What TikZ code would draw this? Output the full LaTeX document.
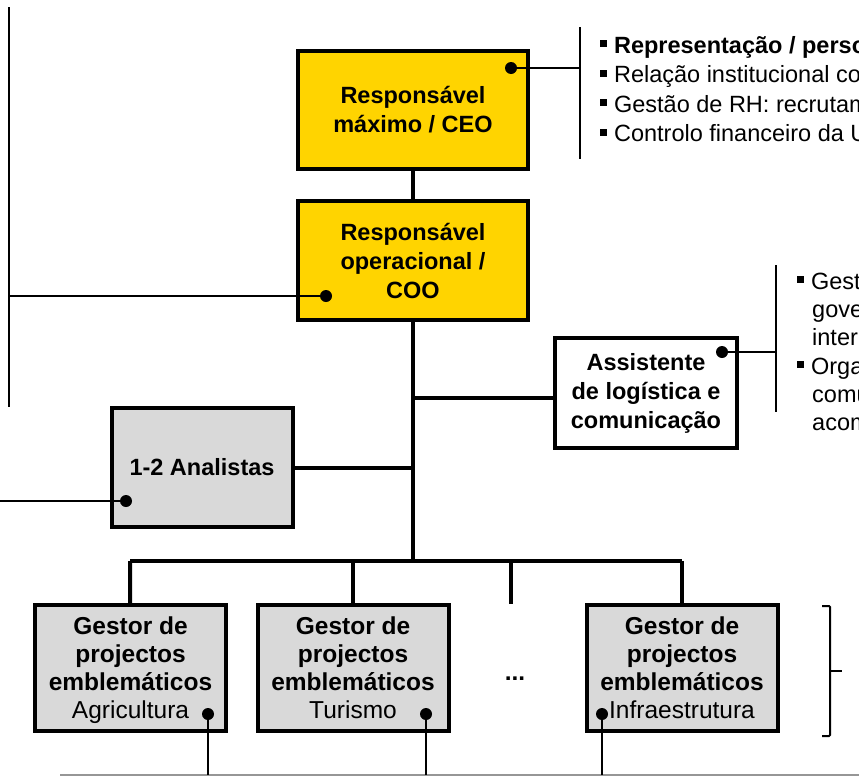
\documentclass[tikz,border=0pt]{standalone}
\usepackage{fontspec}
\setmainfont{Liberation Sans}
\usetikzlibrary{positioning}
\definecolor{ceoyellow}{RGB}{255,212,0}
\definecolor{boxgray}{RGB}{217,217,217}
\definecolor{linegray}{RGB}{150,150,150}
\newcommand{\sqbullet}{\rule[0.25em]{0.29em}{0.29em}\hspace{0.3em}}

\begin{document}
\begin{tikzpicture}[x=1pt,y=-1pt,
        orgbox/.style={
            draw,
            line width=4pt,
            align=center,
            inner sep=0pt,
            font=\fontsize{23.5}{29}\selectfont\bfseries,
        },
        ceobox/.style={orgbox,fill=ceoyellow,minimum width=230,minimum height=118},
        greybox/.style={orgbox,fill=boxgray,minimum width=191,minimum height=126,
            font=\fontsize{24.5}{28}\selectfont\bfseries},
        dot/.style={circle,fill=black,inner sep=0pt,minimum size=12pt},
        thinline/.style={line width=2pt},
        thickline/.style={line width=4pt},
        bullettext/.style={anchor=base west,inner sep=0pt,
            font=\fontsize{23.5}{29}\selectfont},
    ]
    \useasboundingbox (0,0) rectangle (859,782);
    \clip (0,0) rectangle (859,782);

    % management boxes
    \node[ceobox] (ceo) at (413,110) {Responsável\\máximo / CEO};
    \node[ceobox,minimum height=119] (coo) at (413,260.5) {Responsável\\operacional /\\COO};
    \node[orgbox,fill=white,minimum width=182,minimum height=110] (assist) at (646,393)
        {Assistente\\de logística e\\comunicação};
    \node[orgbox,fill=boxgray,minimum width=181,minimum height=119] (analyst) at (202,467.5)
        {1-2 Analistas};

    % project managers
    \node[greybox] (agri) at (130.5,668) {Gestor de\\projectos\\emblemáticos\\{\mdseries\smash{Agricultura}}};
    \node[greybox] (tour) at (353,668) {Gestor de\\projectos\\emblemáticos\\{\mdseries Turismo}};
    \node[greybox] (infra) at (682,668) {Gestor de\\projectos\\emblemáticos\\{\mdseries Infraestrutura}};
    \node[anchor=base,inner sep=0pt,font=\fontsize{24.5}{28}\selectfont\bfseries] (more) at (515,680) {...};

    % dots
    \node[dot] (ceodot) at (511,68) {};
    \node[dot] (coodot) at (326,296) {};
    \node[dot] (assistdot) at (722,352) {};
    \node[dot] (analystdot) at (126,501) {};
    \node[dot] (agridot) at (208,714) {};
    \node[dot] (tourdot) at (426,714) {};
    \node[dot] (infradot) at (602,714) {};

    % hierarchy
    \coordinate (trunkend) at (413,561);
    \coordinate (barleft) at (130,561);
    \coordinate (barright) at (682,561);
    \coordinate (morestub) at (511,561);
    \coordinate (assistjoin) at (413,398);
    \draw[thickline] (ceo) -- (coo);
    \draw[thickline] (coo) -- (trunkend);
    \draw[thickline] (assistjoin) -- (assistjoin -| assist.west);
    \draw[thickline] (analyst.east) -- (analyst.east -| trunkend);
    \draw[thickline] (barleft) -- (barright);
    \draw[thickline] (barleft) -- (agri);
    \draw[thickline] (tour.north |- barleft) -- (tour);
    \draw[thickline] (barright) -- (infra);
    \draw[thickline] (morestub) -- ++(0,43);

    % task lists
    \coordinate (ceobr) at (580,68);
    \coordinate (coobr) at (9,296);
    \coordinate (assistbr) at (776,352);
    \coordinate (analystend) at (0,501);
    \draw[thinline] (ceodot) -- (ceobr);
    \draw[thinline] (580,27) -- (580,159);
    \draw[thinline] (coodot) -- (coobr);
    \draw[thinline] (9,7) -- (9,407);
    \draw[thinline] (assistdot) -- (assistbr);
    \draw[thinline] (776,265) -- (776,412);
    \draw[thinline] (analystdot) -- (analystend);

    \node[bullettext] (ceotask1) at (600,53) {\sqbullet\textbf{Representação / perso}};
    \node[bullettext] (ceotask2) at (600,82.5) {\sqbullet Relação institucional com};
    \node[bullettext] (ceotask3) at (600,112) {\sqbullet Gestão de RH: recrutam};
    \node[bullettext] (ceotask4) at (600,141.5) {\sqbullet Controlo financeiro da U};

    \foreach \txt/\yy in {\sqbullet Gestã/289,\sqbullet Organ/374}
        \node[bullettext] at (797,\yy) {\txt};
    \foreach \txt/\yy in {gover/317,intern/345,comun/402,acomp/430}
        \node[bullettext] at (812,\yy) {\txt};

    % bottom bracket and links
    \draw[thinline,rounded corners=1pt] (822,606) -| (830,736) -- (822,736);
    \draw[thinline] (830,671) -- (842,671);
    \draw[thinline,linegray] (60,775) -- (859,775);
    \draw[thinline] (agridot) -- (agridot |- 0,775);
    \draw[thinline] (tourdot) -- (tourdot |- 0,775);
    \draw[thinline] (infradot) -- (infradot |- 0,775);
\end{tikzpicture}
\end{document}
